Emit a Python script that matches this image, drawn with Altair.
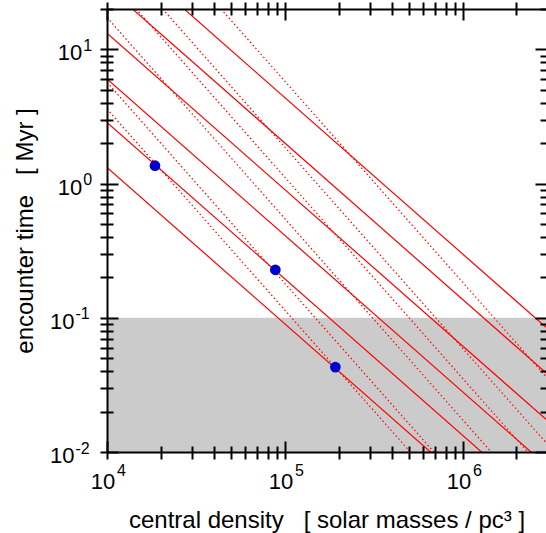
import altair as alt
import pandas as pd

# ---------------- data ----------------
X_MIN, X_MAX = 1e4, 2.93e6          # central density range [solar masses / pc^3]
Y_MIN, Y_MAX = 0.01, 20.0           # encounter time range [Myr]

BAND_LO, BAND_HI = 0.01, 0.1        # shaded region

# solid lines (slope -7/6): encounter time at the left edge and at the right edge
SOLID_T_LEFT = [1.32, 2.86, 6.03, 13.2, 29.4, 64.1]
SOLID_T_RIGHT = [0.00175, 0.00378, 0.00798, 0.01754, 0.0389, 0.0849]

# dotted lines (slope -3/2): encounter time at the left edge and at the right edge
DOT_T_LEFT = [3.60, 5.69, 17.3, 35.2, 58.9, 182.8]
DOT_T_RIGHT = [0.000718, 0.001135, 0.00345, 0.00702, 0.01175, 0.0365]

# blue points
PT_RHO = [1.86e4, 8.83e4, 1.92e5]
PT_T = [1.36, 0.228, 0.0429]

# axis ticks and labels (base "10" and the exponent drawn as a superscript)
X_MAJOR = [1e4, 1e5, 1e6]
X_EXPONENTS = ["4", "5", "6"]
Y_MAJOR = [0.01, 0.1, 1.0, 10.0]
Y_EXPONENTS = ["-2", "-1", "0", "1"]
X_MINOR = [m * 10.0 ** k for k in (4, 5) for m in range(2, 10)] + [2e6]
Y_MINOR = [m * 10.0 ** k for k in (-2, -1, 0) for m in range(2, 10)] + [20.0]

NB = "\u00a0"
X_TITLE = f"central density{NB}{NB}{NB}[{NB}solar masses / pc³{NB}]"
Y_TITLE = f"encounter time{NB}{NB}{NB}[{NB}Myr{NB}]"

# ---------------- tables ----------------
band_df = pd.DataFrame({"rho": [X_MIN], "rho2": [X_MAX], "t": [BAND_LO], "t2": [BAND_HI]})

solid_rows = []
for i, (a, b) in enumerate(zip(SOLID_T_LEFT, SOLID_T_RIGHT)):
    solid_rows.append({"line": f"s{i}", "rho": X_MIN, "t": a})
    solid_rows.append({"line": f"s{i}", "rho": X_MAX, "t": b})
solid_df = pd.DataFrame(solid_rows)

dot_rows = []
for i, (a, b) in enumerate(zip(DOT_T_LEFT, DOT_T_RIGHT)):
    dot_rows.append({"line": f"d{i}", "rho": X_MIN, "t": a})
    dot_rows.append({"line": f"d{i}", "rho": X_MAX, "t": b})
dot_df = pd.DataFrame(dot_rows)

pts_df = pd.DataFrame({"rho": PT_RHO, "t": PT_T})


def label_expr(values, labels):
    expr = "''"
    for v, lab in reversed(list(zip(values, labels))):
        expr = f"datum.value == {v!r} ? '{lab}' : ({expr})"
    return expr


FONT = "Liberation Sans"
W, H = 439, 443

xscale = alt.Scale(type="log", domain=[X_MIN, X_MAX], nice=False)
yscale = alt.Scale(type="log", domain=[Y_MIN, Y_MAX], nice=False)

common = dict(grid=False, zindex=1, tickColor="black", tickWidth=2,
              domainColor="black", domainWidth=2)
lab = dict(labelFont=FONT, labelColor="black", labelOverlap=False, labelFlush=False,
           labelBaseline="alphabetic")


def noaxis(orient, values, size, offset):
    return alt.Axis(orient=orient, values=values, tickSize=size, offset=offset,
                    labels=False, domain=False, title=None, **common)


# main axes: base "10" labels, outward ticks, titles
x_main = alt.Axis(orient="bottom", values=X_MAJOR + X_MINOR, tickSize=7,
                  labelExpr=label_expr(X_MAJOR, ["10"] * len(X_MAJOR)),
                  labelFontSize=22, labelPadding=29, labelOffset=-4.5,
                  title=X_TITLE, titleFont=FONT, titleFontSize=24,
                  titleFontWeight="normal", titleColor="black",
                  titleX=W / 2, titleY=75, titleBaseline="alphabetic",
                  titleAlign="center", domain=True, **lab, **common)
y_main = alt.Axis(orient="left", values=Y_MAJOR + Y_MINOR, tickSize=7,
                  labelExpr=label_expr(Y_MAJOR, ["10"] * len(Y_MAJOR)),
                  labelFontSize=22, labelOffset=10.5,
                  labelPadding={"condition": {"test": "datum.value < 1", "value": 26},
                                "value": 18.3},
                  title=Y_TITLE, titleFont=FONT, titleFontSize=24,
                  titleFontWeight="normal", titleColor="black",
                  titleX=-75, titleY=H / 2, titleAngle=270,
                  titleBaseline="alphabetic", titleAlign="center",
                  domain=True, **lab, **common)

# inward major ticks + superscript exponents
x_major_in = alt.Axis(orient="bottom", values=X_MAJOR, tickSize=11, offset=-11,
                      labelExpr=label_expr(X_MAJOR, X_EXPONENTS),
                      labelFontSize=16, labelPadding=23, labelOffset=14,
                      domain=False, title=None, **lab, **common)
y_major_in = alt.Axis(orient="left", values=Y_MAJOR, tickSize=11, offset=-11,
                      labelExpr=label_expr(Y_MAJOR, Y_EXPONENTS),
                      labelFontSize=16, labelOffset=1, labelAlign="left",
                      labelPadding={"condition": {"test": "datum.value < 1", "value": 32},
                                    "value": 24.3},
                      domain=False, title=None, **lab, **common)

band = alt.Chart(band_df).mark_rect(color="#cbcbcb").encode(
    x=alt.X("rho:Q", scale=xscale, axis=x_main),
    x2="rho2:Q",
    y=alt.Y("t:Q", scale=yscale, axis=y_main),
    y2="t2:Q",
)

solid = alt.Chart(solid_df).mark_line(color="#ff0000", strokeWidth=1.2, clip=True).encode(
    x=alt.X("rho:Q", scale=xscale, axis=x_major_in),
    y=alt.Y("t:Q", scale=yscale, axis=y_major_in),
    detail="line:N",
)

dotted = alt.Chart(dot_df).mark_line(color="#ff0000", strokeWidth=1.2,
                                     strokeDash=[1.5, 2.5], clip=True).encode(
    x=alt.X("rho:Q", scale=xscale, axis=noaxis("bottom", X_MINOR, 6, -6)),
    y=alt.Y("t:Q", scale=yscale, axis=noaxis("left", Y_MINOR, 6, -6)),
    detail="line:N",
)

points = alt.Chart(pts_df).mark_circle(color="#0000cc", size=115, opacity=1).encode(
    x=alt.X("rho:Q", scale=xscale,
            axis=alt.Axis(orient="top", values=X_MAJOR + X_MINOR, tickSize=7,
                          labels=False, domain=True, title=None, **common)),
    y=alt.Y("t:Q", scale=yscale,
            axis=alt.Axis(orient="right", values=Y_MAJOR + Y_MINOR, tickSize=7,
                          labels=False, domain=False, title=None, **common)),
)

ghost_major = alt.Chart(pts_df).mark_point(opacity=0).encode(
    x=alt.X("rho:Q", scale=xscale, axis=noaxis("top", X_MAJOR, 11, -11)),
    y=alt.Y("t:Q", scale=yscale, axis=noaxis("right", Y_MAJOR, 11, -11)),
)
ghost_minor = alt.Chart(pts_df).mark_point(opacity=0).encode(
    x=alt.X("rho:Q", scale=xscale, axis=noaxis("top", X_MINOR, 6, -6)),
    y=alt.Y("t:Q", scale=yscale, axis=noaxis("right", Y_MINOR, 6, -6)),
)

chart = alt.layer(band, solid, dotted, points, ghost_major, ghost_minor).resolve_axis(
    x="independent", y="independent"
).properties(
    width=W, height=H,
    autosize=alt.AutoSizeParams(type="none"),
    padding={"left": 107, "top": 9, "right": 0, "bottom": 81},
    background="white",
).configure_view(strokeWidth=0)

chart.save("out.html", embed_options={"renderer": "svg", "actions": False})
